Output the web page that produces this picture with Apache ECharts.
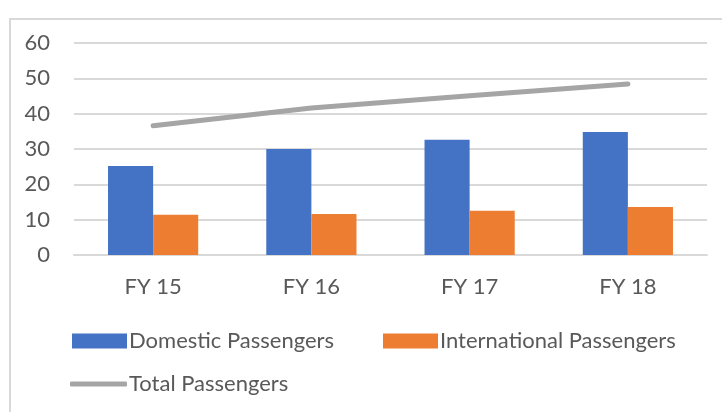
<!DOCTYPE html>
<html><head><meta charset="utf-8">
<script src="https://cdn.jsdelivr.net/npm/echarts@6/dist/echarts.min.js"></script>
<style>html,body{margin:0;padding:0;background:#fff}#c{width:722px;height:412px}</style>
</head><body><div id="c"></div>
<script>
var categories = ['FY 15', 'FY 16', 'FY 17', 'FY 18'];
var domestic = [25.2, 30.0, 32.6, 34.8];
var international = [11.4, 11.6, 12.5, 13.6];
var total = [36.6, 41.6, 45.1, 48.4];
var yTicks = [0, 10, 20, 30, 40, 50, 60];

var FONT = 'Lato, "Open Sans", sans-serif';
var TXT = '#595959';
var chart = echarts.init(document.getElementById('c'), null, {renderer: 'canvas'});
var legendText = {color: TXT, fontSize: 22, fontFamily: FONT, padding: [0, 0, 0, -3]};
chart.setOption({
  animation: false,
  graphic: [{type: 'rect', shape: {x: 10, y: 19, width: 730, height: 420}, style: {fill: 'none', stroke: '#D9D9D9', lineWidth: 2}, silent: true}],
  grid: {left: 74, right: 15, top: 43, bottom: 157},
  xAxis: {type: 'category', data: categories,
    axisLine: {lineStyle: {color: '#D9D9D9', width: 2}}, axisTick: {show: false},
    axisLabel: {color: TXT, fontSize: 22, fontFamily: FONT, margin: 21}},
  yAxis: {type: 'value', min: yTicks[0], max: yTicks[yTicks.length - 1], interval: 10,
    axisLine: {show: false}, axisTick: {show: false},
    splitLine: {lineStyle: {color: '#D9D9D9', width: 2}},
    axisLabel: {color: TXT, fontSize: 22, fontFamily: FONT, margin: 24}},
  legend: [
    {left: 72, top: 330, padding: 0, itemWidth: 55, itemHeight: 15, itemGap: 4, textStyle: legendText,
      data: [{name: 'Domestic Passengers', icon: 'rect'}]},
    {left: 383, top: 330, padding: 0, itemWidth: 55, itemHeight: 15, itemGap: 4, textStyle: legendText,
      data: [{name: 'International Passengers', icon: 'rect'}]},
    {left: 70, top: 373, padding: 0, itemWidth: 57, itemHeight: 5, itemGap: 4, textStyle: legendText,
      data: [{name: 'Total Passengers', icon: 'roundRect'}]}
  ],
  series: [
    {name: 'Domestic Passengers', type: 'bar', data: domestic, barGap: '0%', barCategoryGap: '43%',
      itemStyle: {color: '#4472C4'}},
    {name: 'International Passengers', type: 'bar', data: international,
      itemStyle: {color: '#ED7D31'}},
    {name: 'Total Passengers', type: 'line', data: total, symbol: 'none', showSymbol: false,
      lineStyle: {color: '#A5A5A5', width: 5, cap: 'round'}, itemStyle: {color: '#A5A5A5'}}
  ]
});
</script></body></html>
